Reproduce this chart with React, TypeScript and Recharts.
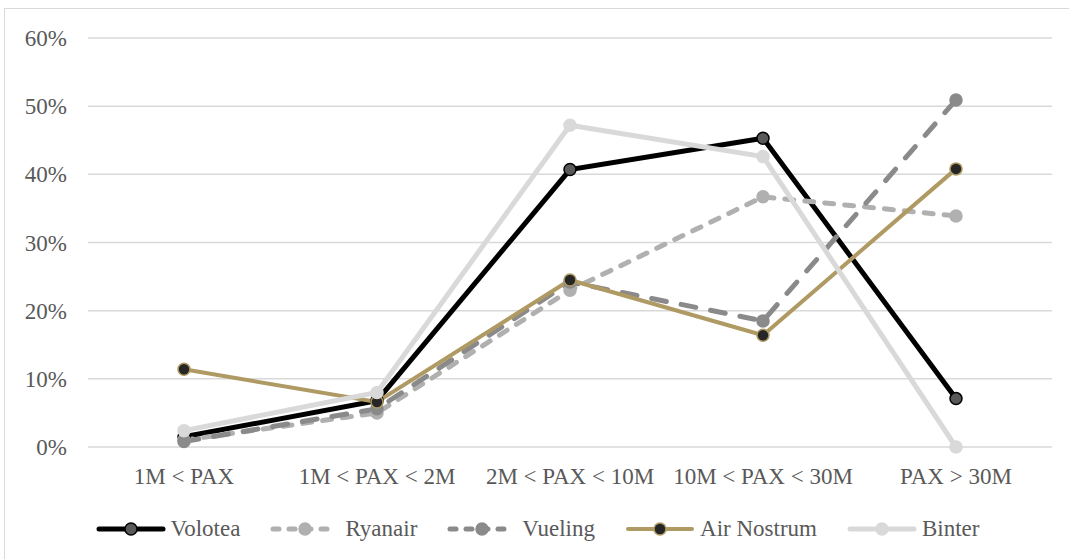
import { LineChart, Line, XAxis, YAxis, CartesianGrid, Legend } from "recharts";

const categories = ["1M < PAX", "1M < PAX < 2M", "2M < PAX < 10M", "10M < PAX < 30M", "PAX > 30M"];
const volotea = [1.5, 6.8, 40.7, 45.3, 7.1];
const ryanair = [1.0, 5.0, 23.0, 36.7, 33.9];
const vueling = [0.8, 5.6, 24.2, 18.5, 50.9];
const airNostrum = [11.4, 6.6, 24.5, 16.4, 40.8];
const binter = [2.4, 8.0, 47.2, 42.6, 0.0];
const yTicks = [0, 10, 20, 30, 40, 50, 60];

const data = categories.map((name, i) => ({
  name,
  Volotea: volotea[i],
  Ryanair: ryanair[i],
  Vueling: vueling[i],
  "Air Nostrum": airNostrum[i],
  Binter: binter[i],
}));

const FONT = "'Liberation Serif', 'Times New Roman', serif";
const TEXT = "#595959";

interface SeriesStyle {
  key: string;
  color: string;
  width: number;
  dash?: string;
  dotFill: string;
  dotStroke: string;
}

const series: SeriesStyle[] = [
  { key: "Volotea", color: "#000000", width: 5, dotFill: "#595959", dotStroke: "#000000" },
  { key: "Ryanair", color: "#b0b0b0", width: 5, dash: "9 11", dotFill: "#b0b0b0", dotStroke: "#b0b0b0" },
  { key: "Vueling", color: "#8a8a8a", width: 5, dash: "15 15", dotFill: "#8a8a8a", dotStroke: "#8a8a8a" },
  { key: "Air Nostrum", color: "#ae9a62", width: 4, dotFill: "#262626", dotStroke: "#ae9a62" },
  { key: "Binter", color: "#d9d9d9", width: 5, dotFill: "#d9d9d9", dotStroke: "#d9d9d9" },
];

const LegendContent = () => (
  <div style={{ display: "flex", justifyContent: "center", alignItems: "center", gap: 30 }}>
    {series.map((s) => (
      <div key={s.key} style={{ display: "flex", alignItems: "center", gap: 5 }}>
        <svg width={70} height={20}>
          <line x1={3} y1={10} x2={67} y2={10} stroke={s.color} strokeWidth={s.width}
            strokeDasharray={s.dash ? "6 10" : undefined} strokeLinecap="round" />
          <circle cx={35} cy={10} r={6} fill={s.dotFill} stroke={s.dotStroke} strokeWidth={1.5} />
        </svg>
        <span style={{ fontFamily: FONT, fontSize: 23, color: TEXT }}>{s.key}</span>
      </div>
    ))}
  </div>
);

const App = () => {
  return (
    <div style={{ position: "absolute", left: 4, top: 8, width: 1067, height: 553, border: "1.5px solid #d9d9d9", background: "#fff" }}>
      <LineChart width={1065} height={551} data={data} margin={{ top: 29, right: 18, bottom: 0, left: 0 }}>
        <CartesianGrid vertical={false} stroke="#d9d9d9" strokeWidth={1.5} />
        <XAxis dataKey="name" axisLine={false} tickLine={false} height={87} tickMargin={15}
          padding={{ left: 96, right: 96 }}
          tick={{ fill: TEXT, fontSize: 23, fontFamily: FONT }} interval={0} />
        <YAxis domain={[0, 60]} ticks={yTicks} width={83} axisLine={false} tickLine={false} tickMargin={15}
          tickFormatter={(v: number) => `${v}%`} tick={{ fill: TEXT, fontSize: 23, fontFamily: FONT }} />
        <Legend content={<LegendContent />} wrapperStyle={{ top: 507, left: 0, width: 1065 }} />
        {series.map((s) => (
          <Line key={s.key} type="linear" dataKey={s.key} stroke={s.color} strokeWidth={s.width}
            strokeDasharray={s.dash} strokeLinecap="round"
            dot={{ r: 6, fill: s.dotFill, stroke: s.dotStroke, strokeWidth: 1.5, strokeDasharray: "" }}
            activeDot={false} isAnimationActive={false} />
        ))}
      </LineChart>
    </div>
  );
};

export default App;
